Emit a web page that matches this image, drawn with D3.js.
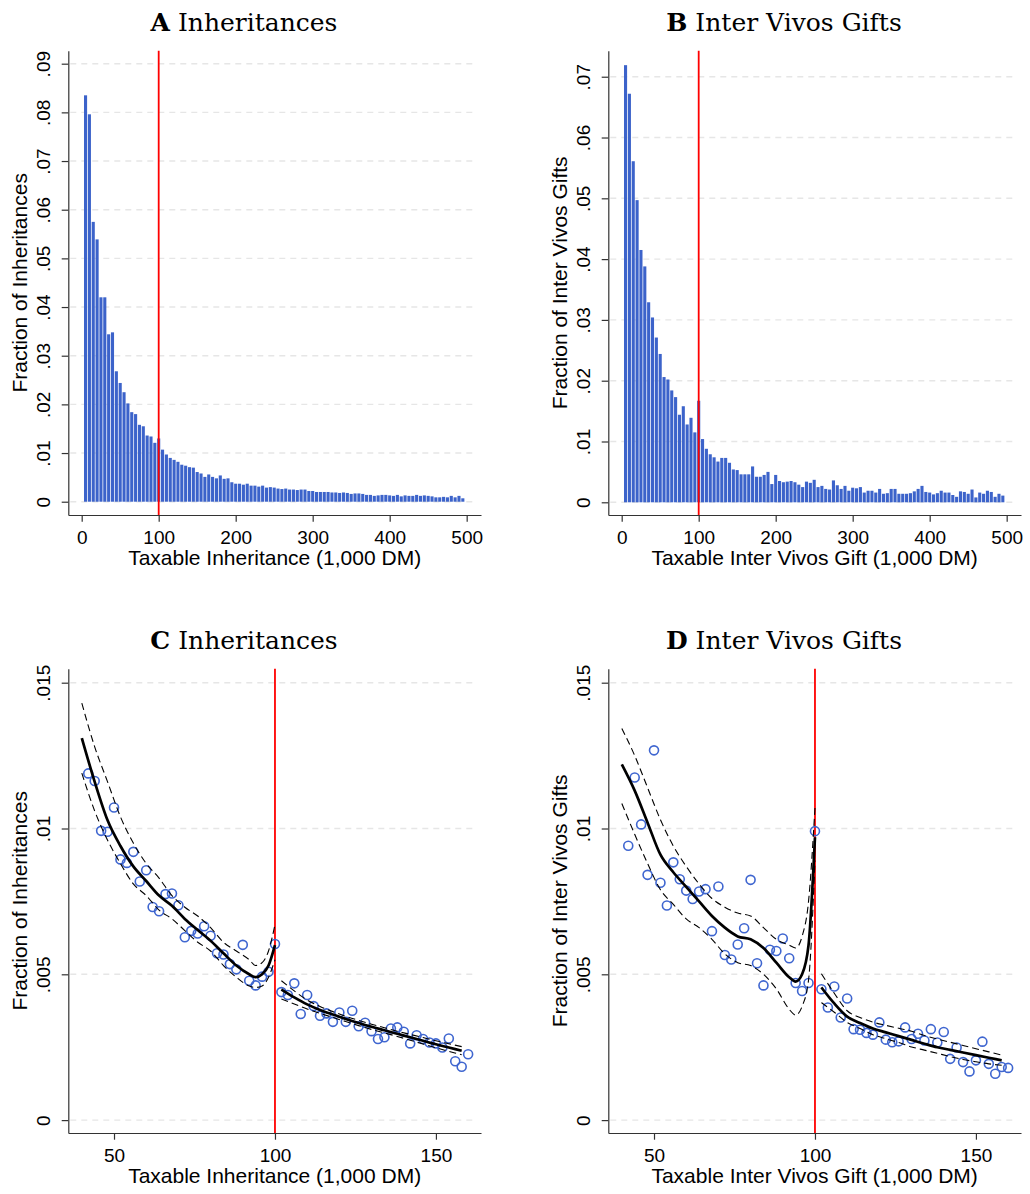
<!DOCTYPE html>
<html>
<head>
<meta charset="utf-8">
<script src="https://cdn.jsdelivr.net/npm/d3@7"></script>
<style>
  body{margin:0;background:#fff;}
</style>
</head>
<body>
<div id="chart"></div>
<script>
/* histogram bins (centre, 1,000 DM) */
var binMid=d3.range(5,500,5);

/* panel A: fraction of inheritances per 5,000 DM bin */
var inhFrac=[.0835,.0796,.0575,.0539,.0420,.0420,.0344,.0348,.0268,.0244,
  .0225,.0202,.0184,.0180,.0158,.0155,.0136,.0134,.0121,.0130,
  .0107,.0097,.0090,.0086,.0082,.0076,.0074,.0071,.0070,.0061,
  .0058,.0051,.0056,.0051,.0048,.0054,.0047,.0048,.0040,.0037,
  .0037,.0035,.0037,.0033,.0033,.0031,.0033,.0029,.0030,.0029,
  .0027,.0026,.0027,.0025,.0025,.0024,.0025,.0025,.0022,.0022,
  .0020,.0020,.0020,.0020,.0019,.0019,.0018,.0019,.0018,.0016,
  .0017,.0017,.0016,.0014,.0014,.0012,.0013,.0014,.0014,.0013,
  .0012,.0014,.0011,.0013,.0012,.0012,.0014,.0012,.0013,.0012,
  .0011,.0009,.0009,.0010,.0009,.0012,.0009,.0012,.0007];

/* panel B: fraction of inter vivos gifts per 5,000 DM bin */
var giftFrac=[.0719,.0672,.0561,.0497,.0415,.0388,.0329,.0304,.0271,.0244,
  .0206,.0202,.0184,.0173,.0144,.0158,.0128,.0139,.0115,.0167,
  .0104,.0088,.0079,.0074,.0067,.0073,.0073,.0065,.0054,.0053,
  .0046,.0046,.0046,.0059,.0042,.0042,.0045,.0050,.0030,.0045,
  .0035,.0033,.0034,.0035,.0033,.0029,.0025,.0034,.0032,.0037,
  .0025,.0027,.0022,.0021,.0036,.0028,.0022,.0027,.0019,.0024,
  .0023,.0025,.0016,.0019,.0019,.0016,.0022,.0014,.0015,.0022,
  .0022,.0014,.0014,.0014,.0015,.0018,.0022,.0027,.0017,.0016,
  .0013,.0015,.0019,.0016,.0016,.0012,.0009,.0018,.0017,.0014,
  .0021,.0008,.0016,.0014,.0019,.0017,.0009,.0014,.0011];

var histTicksX=[0,100,200,300,400,500];
var inhTicksY=[0,.01,.02,.03,.04,.05,.06,.07,.08,.09];
var giftTicksY=[0,.01,.02,.03,.04,.05,.06,.07];
var zoomTicksX=[50,100,150];
var zoomTicksY=[0,.005,.01,.015];

/* panels C and D: 2,000 DM bins around the 100,000 DM bracket limit */
var scatLeftX=d3.range(42,101,2);
var scatRightX=d3.range(102,161,2);

var inhLeft=[.01189,.01163,.00992,.00989,.01072,.00894,.00882,.00920,.00818,.00857,
  .00731,.00716,.00775,.00777,.00737,.00627,.00649,.00640,.00665,.00632,
  .00572,.00568,.00535,.00517,.00601,.00478,.00462,.00492,.00509,.00604];
var inhRight=[.00439,.00429,.00469,.00364,.00429,.00391,.00358,.00366,.00337,.00369,
  .00337,.00375,.00322,.00334,.00305,.00278,.00284,.00314,.00318,.00303,
  .00263,.00291,.00278,.00266,.00263,.00249,.00280,.00202,.00183,.00226];
var giftLeft=[.00941,.01175,.01014,.00841,.01268,.00814,.00736,.00884,.00826,.00787,
  .00758,.00784,.00792,.00648,.00801,.00566,.00551,.00602,.00658,.00824,
  .00538,.00462,.00584,.00580,.00623,.00555,.00470,.00443,.00470,.00991];
var giftRight=[.00449,.00386,.00458,.00352,.00417,.00312,.00310,.00299,.00293,.00335,
  .00276,.00267,.00270,.00318,.00278,.00296,.00273,.00312,.00266,.00302,
  .00210,.00249,.00199,.00167,.00205,.00269,.00193,.00159,.00182,.00179];

/* local fits with confidence bands */
var fitLeftX=[40,44,48,52,56,60,64,68,72,76,80,84,88,92,94,96,98,100];
var fitRightX=[102,106,110,114,118,122,126,130,134,138,142,146,150,154,158];

var inhFitL=[.0131,.0116,.01028,.0094,.0087,.0082,.0077,.00735,.0069,.00652,.00615,.00572,.0053,.0050,.0049,.0050,.0053,.0060];
var inhHiL=[.0143,.0128,.0116,.0104,.0095,.0088,.0083,.0077,.0073,.0070,.0066,.0061,.0058,.0055,.0053,.0054,.0058,.0067];
var inhLoL=[.0119,.0106,.0096,.0088,.0081,.0077,.0072,.0069,.0065,.0061,.0058,.0053,.0049,.0046,.00455,.0046,.0049,.0055];
var inhFitR=[.00448,.00421,.00397,.00378,.00362,.00347,.00333,.00320,.00308,.00296,.00284,.00272,.00260,.00249,.00238];
var inhHiR=[.00478,.00443,.00412,.00390,.00372,.00356,.00342,.00329,.00317,.00305,.00294,.00283,.00272,.00262,.00252];
var inhLoR=[.00415,.00398,.00381,.00366,.00352,.00338,.00324,.00311,.00299,.00287,.00274,.00261,.00248,.00236,.00224];

var giftFitL=[.0122,.0113,.0102,.0091,.0085,.0080,.0075,.0070,.0066,.0063,.0062,.0059,.0054,.0049,.00475,.0050,.0060,.0097];
var giftHiL=[.01343,.0125,.0114,.0103,.0094,.0087,.0081,.0076,.0073,.0071,.0070,.0066,.0062,.0060,.0059,.0063,.0075,.0107];
var giftLoL=[.01086,.0098,.0088,.0079,.0074,.0069,.0066,.0062,.0057,.0054,.0053,.0050,.0045,.0038,.0036,.0039,.0048,.0089];
var giftFitR=[.00455,.00400,.00355,.00333,.00314,.00301,.00288,.00275,.00262,.00250,.00241,.00232,.00223,.00214,.00205];
var giftHiR=[.00502,.00435,.00375,.00352,.00336,.00325,.00315,.00305,.00290,.00278,.00267,.00256,.00245,.00234,.00223];
var giftLoR=[.00403,.00370,.00335,.00314,.00293,.00279,.00266,.00251,.00240,.00229,.00218,.00208,.00200,.00193,.00188];

var SANS="'Liberation Sans', Arial, sans-serif";
var SERIF="'DejaVu Serif', serif";
var BLUE="#3c63ca";

var svg=d3.select("#chart").append("svg").attr("width",1030).attr("height",1194)
  .style("background","#fff");

function frame(ox,oy){
  return {ox:ox,oy:oy,l:68.3+ox,r:481+ox,t:50.7+oy,b:515+oy};
}

function fmtY(v){
  if(v===0) return "0";
  return d3.format(".3~f")(v).replace(/^0/,"");
}

/* dashed horizontal grid */
function drawGrid(f,y,yTicks){
  svg.append("g").selectAll("line").data(yTicks).join("line")
    .attr("x1",f.l+2).attr("x2",f.r-4)
    .attr("y1",function(d){return y(d);}).attr("y2",function(d){return y(d);})
    .attr("stroke","#e6e6e6").attr("stroke-width",1.4).attr("stroke-dasharray","6,5");
}

function drawRed(f,x){
  svg.append("line").attr("x1",x(100)).attr("x2",x(100)).attr("y1",f.t).attr("y2",f.b)
    .attr("stroke","#ff0000").attr("stroke-width",1.8);
}

/* axes, titles */
function drawAxes(f,x,y,xTicks,yTicks,xTitle,yTitle,letter,title){
  var ax=svg.append("g").attr("transform","translate(0,"+f.b+")")
    .call(d3.axisBottom(x).tickValues(xTicks).tickSize(6.7).tickSizeOuter(0).tickPadding(8.8));
  var ay=svg.append("g").attr("transform","translate("+f.l+",0)")
    .call(d3.axisLeft(y).tickValues(yTicks).tickFormat(fmtY).tickSize(6.6).tickSizeOuter(0));
  ay.selectAll("text").attr("x",null).attr("dy",null).attr("text-anchor","middle")
    .attr("transform","translate(-18.3,0) rotate(-90)");
  [ax,ay].forEach(function(a){
    a.attr("font-family",SANS).attr("font-size",19);
    a.selectAll("text").attr("fill","#000");
    a.selectAll("line,path").attr("stroke","#333").attr("stroke-width",1.2);
  });

  svg.append("text").attr("x",(f.l+f.r)/2).attr("y",f.b+50)
    .attr("text-anchor","middle").attr("font-family",SANS).attr("font-size",21)
    .attr("fill","#000").text(xTitle);
  svg.append("text")
    .attr("transform","translate("+(f.l-41.3)+","+((f.t+f.b)/2)+") rotate(-90)")
    .attr("text-anchor","middle").attr("font-family",SANS).attr("font-size",21)
    .attr("fill","#000").text(yTitle);

  var t=svg.append("text").attr("x",244+f.ox).attr("y",30.7+f.oy)
    .attr("text-anchor","middle").attr("font-family",SERIF).attr("font-size",25).attr("fill","#000");
  t.append("tspan").attr("font-weight","bold").text(letter);
  t.append("tspan").text(" "+title);
}

/* histogram panel */
function histPanel(ox,oy,vals,yTop,yBot,yTicks,xTitle,yTitle,letter,title){
  var f=frame(ox,oy);
  var x=d3.scaleLinear().domain([-17.4,518.6]).range([f.l,f.r]);
  var y=d3.scaleLinear().domain([yBot,yTop]).range([f.b,f.t]);
  drawGrid(f,y,yTicks);
  svg.append("g").selectAll("rect").data(binMid).join("rect")
    .attr("x",function(d){return x(d)-1.55;})
    .attr("width",3.1)
    .attr("y",function(d,i){return y(vals[i]);})
    .attr("height",function(d,i){return y(0)-y(vals[i]);})
    .attr("fill",BLUE);
  drawRed(f,x);
  drawAxes(f,x,y,histTicksX,yTicks,xTitle,yTitle,letter,title);
}

/* bunching panel */
function zoomPanel(ox,oy,left,right,fits,xTitle,yTitle,letter,title){
  var f=frame(ox,oy);
  var x=d3.scaleLinear().domain([35.8,164]).range([f.l,f.r]);
  var y=d3.scaleLinear().domain([-0.000442,0.01548]).range([f.b,f.t]);
  drawGrid(f,y,zoomTicksY);
  drawRed(f,x);

  var pts=scatLeftX.map(function(d,i){return [d,left[i]];})
    .concat(scatRightX.map(function(d,i){return [d,right[i]];}));
  svg.append("g").selectAll("circle").data(pts).join("circle")
    .attr("cx",function(d){return x(d[0]);}).attr("cy",function(d){return y(d[1]);})
    .attr("r",4.5).attr("fill","none").attr("stroke","#3f66d0").attr("stroke-width",1.6);

  var line=d3.line().x(function(d){return x(d[0]);}).y(function(d){return y(d[1]);})
    .curve(d3.curveMonotoneX);
  fits.forEach(function(s){
    var xs=s.xs;
    [s.lo,s.hi].forEach(function(arr){
      svg.append("path").datum(xs.map(function(d,i){return [d,arr[i]];}))
        .attr("d",line).attr("fill","none").attr("stroke","#000")
        .attr("stroke-width",1.1).attr("stroke-dasharray","7,4");
    });
    svg.append("path").datum(xs.map(function(d,i){return [d,s.fit[i]];}))
      .attr("d",line).attr("fill","none").attr("stroke","#000").attr("stroke-width",2.7);
  });
  drawAxes(f,x,y,zoomTicksX,zoomTicksY,xTitle,yTitle,letter,title);
}

histPanel(0,0,inhFrac,0.09267,-0.00273,inhTicksY,
  "Taxable Inheritance (1,000 DM)","Fraction of Inheritances","A","Inheritances");
histPanel(540,0,giftFrac,0.07428,-0.00209,giftTicksY,
  "Taxable Inter Vivos Gift (1,000 DM)","Fraction of Inter Vivos Gifts","B","Inter Vivos Gifts");

zoomPanel(0,618,inhLeft,inhRight,[
    {xs:fitLeftX,fit:inhFitL,lo:inhLoL,hi:inhHiL},
    {xs:fitRightX,fit:inhFitR,lo:inhLoR,hi:inhHiR}],
  "Taxable Inheritance (1,000 DM)","Fraction of Inheritances","C","Inheritances");
zoomPanel(540,618,giftLeft,giftRight,[
    {xs:fitLeftX,fit:giftFitL,lo:giftLoL,hi:giftHiL},
    {xs:fitRightX,fit:giftFitR,lo:giftLoR,hi:giftHiR}],
  "Taxable Inter Vivos Gift (1,000 DM)","Fraction of Inter Vivos Gifts","D","Inter Vivos Gifts");
</script>
</body>
</html>
